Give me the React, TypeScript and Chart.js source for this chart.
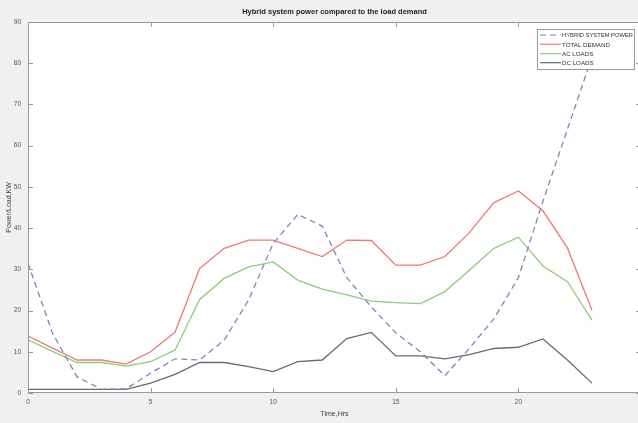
import React, { useEffect, useRef } from "react";
import { Chart, registerables } from "chart.js";

Chart.register(...registerables);

const hours = [0, 1, 2, 3, 4, 5, 6, 7, 8, 9, 10, 11, 12, 13, 14, 15, 16, 17, 18, 19, 20, 21, 22, 23];
const hybridPower = [31.5, 14.5, 3.9, 0.9, 1.0, 4.8, 8.3, 8.0, 12.8, 22.6, 36.3, 43.3, 40.5, 28.0, 20.9, 14.6, 10.0, 4.2, 10.8, 18.0, 28.0, 46.5, 64.0, 81.5];
const totalDemand = [13.8, 10.9, 8.0, 8.0, 7.0, 10.0, 14.8, 30.2, 35.1, 37.1, 37.1, 35.1, 33.1, 37.1, 37.0, 31.0, 31.0, 33.1, 38.9, 46.2, 49.0, 44.2, 35.2, 20.1];
const acLoads = [12.9, 10.1, 7.4, 7.4, 6.5, 7.6, 10.4, 22.7, 27.8, 30.6, 31.8, 27.4, 25.2, 23.8, 22.3, 21.9, 21.7, 24.6, 29.8, 35.1, 37.8, 30.8, 27.0, 17.7];
const dcLoads = [0.9, 0.9, 0.9, 0.9, 0.9, 2.4, 4.5, 7.4, 7.4, 6.4, 5.2, 7.6, 8.0, 13.2, 14.7, 9.0, 9.0, 8.3, 9.3, 10.8, 11.1, 13.1, 8.0, 2.4];
const seriesLabels = ["HYBRID SYSTEM POWER", "TOTAL DEMAND", "AC LOADS", "DC LOADS"];
const xTicks = [0, 5, 10, 15, 20, 25];
const yTicks = [0, 10, 20, 30, 40, 50, 60, 70, 80, 90];
const titleText = "Hybrid system power compared to the load demand";
const xTitle = "Time,Hrs";
const yTitle = "Power/Load,KW";

const FONT = "'Liberation Sans', Arial, sans-serif";

const decorPlugin = {
  id: "decor",
  beforeDraw(chart: any) {
    const { ctx, chartArea: a, width, height } = chart;
    ctx.save();
    ctx.fillStyle = "#f0f0f0";
    ctx.fillRect(0, 0, width, height);
    ctx.fillStyle = "#ffffff";
    ctx.fillRect(a.left, a.top, a.right - a.left, a.bottom - a.top);
    ctx.restore();
  },
  afterDraw(chart: any) {
    const { ctx, chartArea: a } = chart;
    const xs = chart.scales.x;
    const ys = chart.scales.y;
    ctx.save();
    ctx.strokeStyle = "#9a9a9a";
    ctx.lineWidth = 1;
    ctx.strokeRect(a.left + 0.5, a.top + 0.5, a.right - a.left - 1, a.bottom - a.top - 1);
    ctx.beginPath();
    for (const v of xTicks) {
      const px = Math.round(xs.getPixelForValue(v)) + 0.5;
      ctx.moveTo(px, a.bottom);
      ctx.lineTo(px, a.bottom - 5);
      ctx.moveTo(px, a.top);
      ctx.lineTo(px, a.top + 5);
    }
    for (const v of yTicks) {
      const py = Math.round(ys.getPixelForValue(v)) + 0.5;
      ctx.moveTo(a.left, py);
      ctx.lineTo(a.left + 5, py);
      ctx.moveTo(a.right, py);
      ctx.lineTo(a.right - 5, py);
    }
    ctx.stroke();

    ctx.fillStyle = "#202020";
    ctx.font = `bold 7.5px ${FONT}`;
    ctx.textAlign = "center";
    ctx.textBaseline = "middle";
    ctx.fillText(titleText, (a.left + a.right) / 2, 12);

    ctx.fillStyle = "#404040";
    ctx.font = `7px ${FONT}`;
    ctx.fillText(xTitle, (a.left + a.right) / 2, 414);
    ctx.save();
    ctx.translate(9, (a.top + a.bottom) / 2);
    ctx.rotate(-Math.PI / 2);
    ctx.fillText(yTitle, 0, 0);
    ctx.restore();

    const bx = 537.5, by = 29.5, bw = 97, bh = 40;
    ctx.fillStyle = "#ffffff";
    ctx.fillRect(bx, by, bw, bh);
    ctx.strokeStyle = "#9a9a9a";
    ctx.lineWidth = 1;
    ctx.strokeRect(bx, by, bw, bh);
    const rows = [35, 44.3, 53.7, 62.7];
    chart.data.datasets.forEach((ds: any, i: number) => {
      const y = rows[i];
      ctx.beginPath();
      ctx.strokeStyle = ds.borderColor;
      ctx.lineWidth = 1.2;
      ctx.setLineDash(ds.borderDash || []);
      ctx.moveTo(540, y);
      ctx.lineTo(561, y);
      ctx.stroke();
      ctx.setLineDash([]);
      ctx.fillStyle = "#303030";
      ctx.font = `6.2px ${FONT}`;
      ctx.textAlign = "left";
      ctx.textBaseline = "middle";
      const w = ctx.measureText(ds.label).width;
      const maxW = 71;
      ctx.save();
      ctx.translate(562, y + 0.5);
      if (w > maxW) ctx.scale(maxW / w, 1);
      ctx.fillText(ds.label, 0, 0);
      ctx.restore();
    });
    ctx.restore();
  },
};

function toPoints(vals: number[]) {
  return hours.map((h, i) => ({ x: h, y: vals[i] }));
}

export default function App() {
  const ref = useRef<HTMLCanvasElement | null>(null);
  useEffect(() => {
    document.body.style.margin = "0";
    document.body.style.overflow = "hidden";
    const canvas = ref.current;
    if (!canvas) return;
    const common = { borderWidth: 1.3, pointRadius: 0, tension: 0 };
    const chart = new Chart(canvas, {
      type: "line",
      data: {
        datasets: [
          { ...common, label: seriesLabels[0], data: toPoints(hybridPower), borderColor: "#7f84bb", borderDash: [6, 4] },
          { ...common, label: seriesLabels[1], data: toPoints(totalDemand), borderColor: "#ef7878" },
          { ...common, label: seriesLabels[2], data: toPoints(acLoads), borderColor: "#8fcc78" },
          { ...common, label: seriesLabels[3], data: toPoints(dcLoads), borderColor: "#6a6a6a" },
        ],
      },
      options: {
        responsive: false,
        animation: false,
        devicePixelRatio: 1,
        layout: { padding: { top: 22, right: 4, left: 0, bottom: 0 } },
        plugins: {
          legend: { display: false },
          title: { display: false },
          tooltip: { enabled: false },
        },
        scales: {
          x: {
            type: "linear",
            min: 0,
            max: 25,
            afterFit: (s: any) => {
              s.height = 30;
            },
            afterBuildTicks: (s: any) => {
              s.ticks = xTicks.map((v) => ({ value: v }));
            },
            grid: { display: false, drawTicks: false },
            border: { display: false },
            ticks: {
              padding: 5,
              color: "#555555",
              font: { family: FONT, size: 6.5 },
              maxRotation: 0,
              callback: (v: any) => (v === 25 ? "" : String(v)),
            },
          },
          y: {
            type: "linear",
            min: 0,
            max: 90,
            afterFit: (s: any) => {
              s.width = 28;
            },
            afterBuildTicks: (s: any) => {
              s.ticks = yTicks.map((v) => ({ value: v }));
            },
            grid: { display: false, drawTicks: false },
            border: { display: false },
            ticks: {
              padding: 7,
              color: "#555555",
              font: { family: FONT, size: 6.5 },
            },
          },
        },
      },
      plugins: [decorPlugin],
    } as any);
    return () => chart.destroy();
  }, []);
  return (
    <div style={{ width: 646, height: 423, overflow: "hidden" }}>
      <canvas ref={ref} width={646} height={423} style={{ display: "block", width: 646, height: 423 }} />
    </div>
  );
}
